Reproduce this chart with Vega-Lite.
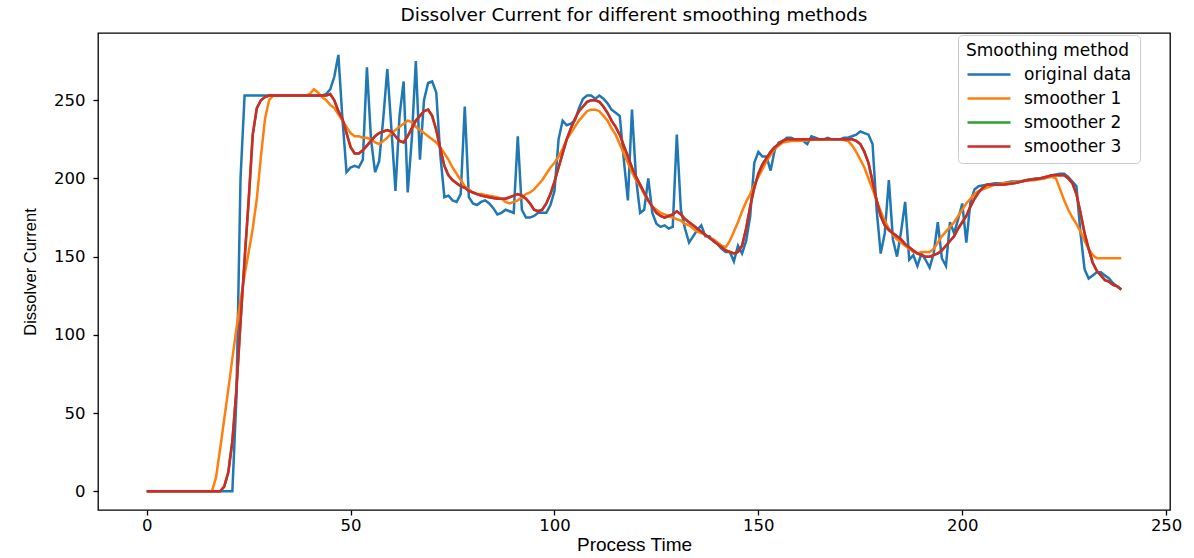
{
  "$schema": "https://vega.github.io/schema/vega-lite/v6.json",
  "autosize": {"type": "none"},
  "padding": {"left": 98, "top": 33, "right": 24, "bottom": 48},
  "width": 1072,
  "height": 477,
  "background": "white",
  "title": {
    "text": "Dissolver Current for different smoothing methods",
    "fontSize": 18.5,
    "font": "DejaVu Sans",
    "fontWeight": "normal",
    "color": "#000000",
    "offset": 9
  },
  "config": {
    "font": "DejaVu Sans",
    "view": {"stroke": "#000000", "strokeWidth": 1.3},
    "axis": {
      "domain": false,
      "grid": false,
      "tickColor": "#000000",
      "tickSize": 5,
      "tickWidth": 1.3,
      "labelColor": "#000000",
      "labelFontSize": 16.5,
      "labelFont": "DejaVu Sans",
      "titleColor": "#000000",
      "titleFontWeight": "normal",
      "titleFont": "Liberation Sans"
    }
  },
  "datasets": {
    "orig": [
      {"t":0,"v":0},{"t":21,"v":0},{"t":22,"v":60},{"t":23,"v":200},{"t":24,"v":253},{"t":43,"v":253},{"t":44,"v":254},{"t":45,"v":257},{"t":46,"v":265},{"t":47,"v":279},{"t":48,"v":238},{"t":49,"v":204},{"t":50,"v":207},{"t":51,"v":208},{"t":52,"v":207},{"t":53,"v":212},{"t":54,"v":271},{"t":55,"v":225},{"t":56,"v":204},{"t":57,"v":211},{"t":58,"v":238},{"t":59,"v":270},{"t":60,"v":232},{"t":61,"v":192},{"t":62,"v":240},{"t":63,"v":262},{"t":64,"v":191},{"t":65,"v":225},{"t":66,"v":275},{"t":67,"v":212},{"t":68,"v":250},{"t":69,"v":261},{"t":70,"v":262},{"t":71,"v":255},{"t":72,"v":215},{"t":73,"v":188},{"t":74,"v":189},{"t":75,"v":186},{"t":76,"v":185},{"t":77,"v":190},{"t":78,"v":246},{"t":79,"v":188},{"t":80,"v":184},{"t":81,"v":183},{"t":82,"v":185},{"t":83,"v":186},{"t":84,"v":184},{"t":85,"v":181},{"t":86,"v":177},{"t":87,"v":178},{"t":88,"v":180},{"t":89,"v":179},{"t":90,"v":178},{"t":91,"v":227},{"t":92,"v":180},{"t":93,"v":175},{"t":94,"v":175},{"t":95,"v":176},{"t":96,"v":178},{"t":97,"v":178},{"t":98,"v":178},{"t":99,"v":183},{"t":100,"v":192},{"t":101,"v":225},{"t":102,"v":237},{"t":103,"v":234},{"t":104,"v":235},{"t":105,"v":237},{"t":106,"v":245},{"t":107,"v":251},{"t":108,"v":253},{"t":109,"v":253},{"t":110,"v":251},{"t":111,"v":253},{"t":112,"v":251},{"t":113,"v":248},{"t":114,"v":244},{"t":115,"v":242},{"t":116,"v":240},{"t":117,"v":212},{"t":118,"v":186},{"t":119,"v":244},{"t":120,"v":200},{"t":121,"v":178},{"t":122,"v":180},{"t":123,"v":200},{"t":124,"v":178},{"t":125,"v":171},{"t":126,"v":169},{"t":127,"v":170},{"t":128,"v":168},{"t":129,"v":169},{"t":130,"v":228},{"t":131,"v":180},{"t":132,"v":168},{"t":133,"v":159},{"t":134,"v":163},{"t":135,"v":167},{"t":136,"v":170},{"t":137,"v":163},{"t":138,"v":163},{"t":139,"v":160},{"t":140,"v":158},{"t":141,"v":155},{"t":142,"v":153},{"t":143,"v":153},{"t":144,"v":147},{"t":145,"v":157},{"t":146,"v":152},{"t":147,"v":160},{"t":148,"v":176},{"t":149,"v":210},{"t":150,"v":217},{"t":151,"v":214},{"t":152,"v":214},{"t":153,"v":205},{"t":154,"v":218},{"t":155,"v":223},{"t":156,"v":224},{"t":157,"v":226},{"t":158,"v":226},{"t":159,"v":225},{"t":160,"v":225},{"t":161,"v":224},{"t":162,"v":222},{"t":163,"v":227},{"t":164,"v":226},{"t":165,"v":225},{"t":166,"v":225},{"t":167,"v":226},{"t":168,"v":225},{"t":169,"v":225},{"t":170,"v":225},{"t":171,"v":226},{"t":172,"v":226},{"t":173,"v":227},{"t":174,"v":228},{"t":175,"v":230},{"t":176,"v":229},{"t":177,"v":228},{"t":178,"v":222},{"t":179,"v":180},{"t":180,"v":152},{"t":181,"v":165},{"t":182,"v":199},{"t":183,"v":161},{"t":184,"v":150},{"t":185,"v":166},{"t":186,"v":185},{"t":187,"v":148},{"t":188,"v":151},{"t":189,"v":144},{"t":190,"v":152},{"t":191,"v":148},{"t":192,"v":143},{"t":193,"v":152},{"t":194,"v":172},{"t":195,"v":149},{"t":196,"v":144},{"t":197,"v":172},{"t":198,"v":165},{"t":199,"v":174},{"t":200,"v":184},{"t":201,"v":159},{"t":202,"v":185},{"t":203,"v":193},{"t":204,"v":195},{"t":206,"v":196},{"t":208,"v":197},{"t":210,"v":197},{"t":212,"v":198},{"t":214,"v":198},{"t":216,"v":199},{"t":218,"v":200},{"t":220,"v":200},{"t":222,"v":202},{"t":224,"v":203},{"t":225,"v":203},{"t":226,"v":201},{"t":227,"v":198},{"t":228,"v":195},{"t":229,"v":165},{"t":230,"v":142},{"t":231,"v":136},{"t":232,"v":138},{"t":233,"v":140},{"t":234,"v":140},{"t":235,"v":138},{"t":236,"v":136},{"t":237,"v":133},{"t":238,"v":131},{"t":239,"v":129}
    ],
    "s1": [
      {"t":0,"v":0},{"t":16,"v":0},{"t":17,"v":9},{"t":18,"v":27},{"t":19,"v":46},{"t":20,"v":65},{"t":21,"v":85},{"t":22,"v":104},{"t":23,"v":122},{"t":24,"v":138},{"t":25,"v":153},{"t":26,"v":168},{"t":27,"v":187},{"t":28,"v":214},{"t":29,"v":238},{"t":30,"v":250},{"t":31,"v":253},{"t":39,"v":253},{"t":40,"v":254},{"t":41,"v":257},{"t":42,"v":255},{"t":43,"v":252},{"t":44,"v":250},{"t":45,"v":247},{"t":46,"v":245},{"t":47,"v":241},{"t":48,"v":237},{"t":49,"v":233},{"t":50,"v":229},{"t":51,"v":227},{"t":52,"v":227},{"t":53,"v":226},{"t":54,"v":226},{"t":55,"v":225},{"t":56,"v":223},{"t":57,"v":222},{"t":58,"v":224},{"t":59,"v":226},{"t":60,"v":229},{"t":61,"v":231},{"t":62,"v":233},{"t":63,"v":235},{"t":64,"v":237},{"t":65,"v":236},{"t":66,"v":233},{"t":67,"v":231},{"t":68,"v":229},{"t":69,"v":227},{"t":70,"v":225},{"t":71,"v":223},{"t":72,"v":220},{"t":73,"v":216},{"t":74,"v":212},{"t":75,"v":207},{"t":76,"v":203},{"t":77,"v":199},{"t":78,"v":195},{"t":79,"v":193},{"t":80,"v":191},{"t":81,"v":190},{"t":82,"v":190},{"t":84,"v":189},{"t":86,"v":188},{"t":87,"v":187},{"t":88,"v":185},{"t":89,"v":184},{"t":90,"v":185},{"t":91,"v":186},{"t":92,"v":188},{"t":93,"v":190},{"t":94,"v":191},{"t":95,"v":193},{"t":96,"v":196},{"t":97,"v":199},{"t":98,"v":203},{"t":99,"v":207},{"t":100,"v":210},{"t":101,"v":214},{"t":102,"v":219},{"t":103,"v":225},{"t":104,"v":229},{"t":105,"v":233},{"t":106,"v":237},{"t":107,"v":240},{"t":108,"v":243},{"t":109,"v":244},{"t":110,"v":244},{"t":111,"v":243},{"t":112,"v":240},{"t":113,"v":237},{"t":114,"v":232},{"t":115,"v":228},{"t":116,"v":222},{"t":117,"v":216},{"t":118,"v":210},{"t":119,"v":204},{"t":120,"v":199},{"t":121,"v":195},{"t":122,"v":190},{"t":123,"v":186},{"t":124,"v":182},{"t":125,"v":180},{"t":126,"v":178},{"t":127,"v":177},{"t":128,"v":176},{"t":129,"v":175},{"t":130,"v":174},{"t":131,"v":173},{"t":132,"v":171},{"t":133,"v":170},{"t":134,"v":168},{"t":135,"v":166},{"t":136,"v":165},{"t":137,"v":164},{"t":138,"v":162},{"t":139,"v":161},{"t":140,"v":159},{"t":141,"v":157},{"t":142,"v":156},{"t":143,"v":160},{"t":144,"v":166},{"t":145,"v":172},{"t":146,"v":179},{"t":147,"v":185},{"t":148,"v":190},{"t":149,"v":196},{"t":150,"v":201},{"t":151,"v":206},{"t":152,"v":211},{"t":153,"v":215},{"t":154,"v":219},{"t":155,"v":221},{"t":156,"v":223},{"t":158,"v":224},{"t":160,"v":224},{"t":165,"v":225},{"t":170,"v":225},{"t":172,"v":224},{"t":173,"v":221},{"t":174,"v":217},{"t":175,"v":212},{"t":176,"v":207},{"t":177,"v":200},{"t":178,"v":193},{"t":179,"v":186},{"t":180,"v":179},{"t":181,"v":173},{"t":182,"v":168},{"t":183,"v":164},{"t":184,"v":161},{"t":185,"v":159},{"t":186,"v":157},{"t":187,"v":155},{"t":188,"v":153},{"t":189,"v":152},{"t":190,"v":153},{"t":192,"v":153},{"t":193,"v":155},{"t":194,"v":159},{"t":195,"v":163},{"t":196,"v":166},{"t":197,"v":169},{"t":198,"v":172},{"t":199,"v":176},{"t":200,"v":180},{"t":201,"v":184},{"t":202,"v":187},{"t":203,"v":190},{"t":204,"v":192},{"t":205,"v":193},{"t":206,"v":194},{"t":208,"v":196},{"t":210,"v":197},{"t":214,"v":198},{"t":218,"v":199},{"t":220,"v":200},{"t":222,"v":201},{"t":223,"v":200},{"t":224,"v":193},{"t":225,"v":186},{"t":226,"v":180},{"t":227,"v":175},{"t":228,"v":171},{"t":229,"v":166},{"t":230,"v":160},{"t":231,"v":155},{"t":232,"v":151},{"t":233,"v":149},{"t":239,"v":149}
    ],
    "s3": [
      {"t":0,"v":0},{"t":18,"v":0},{"t":19,"v":3},{"t":20,"v":12},{"t":21,"v":32},{"t":22,"v":65},{"t":23,"v":108},{"t":24,"v":148},{"t":25,"v":186},{"t":26,"v":228},{"t":27,"v":245},{"t":28,"v":250},{"t":29,"v":252},{"t":30,"v":253},{"t":44,"v":253},{"t":45,"v":254},{"t":46,"v":250},{"t":47,"v":243},{"t":48,"v":238},{"t":49,"v":229},{"t":50,"v":220},{"t":51,"v":216},{"t":52,"v":216},{"t":53,"v":218},{"t":54,"v":221},{"t":55,"v":224},{"t":56,"v":227},{"t":57,"v":229},{"t":58,"v":230},{"t":59,"v":231},{"t":60,"v":230},{"t":61,"v":227},{"t":62,"v":224},{"t":63,"v":223},{"t":64,"v":227},{"t":65,"v":232},{"t":66,"v":237},{"t":67,"v":240},{"t":68,"v":243},{"t":69,"v":244},{"t":70,"v":240},{"t":71,"v":231},{"t":72,"v":219},{"t":73,"v":208},{"t":74,"v":202},{"t":75,"v":199},{"t":76,"v":197},{"t":77,"v":195},{"t":78,"v":194},{"t":79,"v":192},{"t":80,"v":191},{"t":81,"v":190},{"t":82,"v":189},{"t":84,"v":188},{"t":86,"v":187},{"t":88,"v":187},{"t":90,"v":189},{"t":91,"v":190},{"t":92,"v":189},{"t":93,"v":187},{"t":94,"v":184},{"t":95,"v":180},{"t":96,"v":179},{"t":97,"v":180},{"t":98,"v":184},{"t":99,"v":190},{"t":100,"v":198},{"t":101,"v":207},{"t":102,"v":216},{"t":103,"v":225},{"t":104,"v":232},{"t":105,"v":238},{"t":106,"v":243},{"t":107,"v":246},{"t":108,"v":249},{"t":109,"v":250},{"t":110,"v":250},{"t":111,"v":249},{"t":112,"v":246},{"t":113,"v":242},{"t":114,"v":237},{"t":115,"v":233},{"t":116,"v":228},{"t":117,"v":221},{"t":118,"v":214},{"t":119,"v":207},{"t":120,"v":201},{"t":121,"v":196},{"t":122,"v":191},{"t":123,"v":186},{"t":124,"v":182},{"t":125,"v":178},{"t":126,"v":176},{"t":127,"v":175},{"t":128,"v":176},{"t":129,"v":177},{"t":130,"v":179},{"t":131,"v":177},{"t":132,"v":174},{"t":133,"v":172},{"t":134,"v":170},{"t":135,"v":168},{"t":136,"v":166},{"t":137,"v":164},{"t":138,"v":162},{"t":139,"v":160},{"t":140,"v":158},{"t":141,"v":156},{"t":142,"v":154},{"t":143,"v":153},{"t":144,"v":152},{"t":145,"v":153},{"t":146,"v":157},{"t":147,"v":168},{"t":148,"v":182},{"t":149,"v":194},{"t":150,"v":203},{"t":151,"v":209},{"t":152,"v":213},{"t":153,"v":217},{"t":154,"v":220},{"t":155,"v":222},{"t":156,"v":224},{"t":157,"v":225},{"t":173,"v":225},{"t":174,"v":224},{"t":175,"v":222},{"t":176,"v":217},{"t":177,"v":210},{"t":178,"v":198},{"t":179,"v":186},{"t":180,"v":176},{"t":181,"v":170},{"t":182,"v":167},{"t":183,"v":165},{"t":184,"v":163},{"t":185,"v":161},{"t":186,"v":158},{"t":187,"v":156},{"t":188,"v":154},{"t":189,"v":152},{"t":190,"v":151},{"t":191,"v":150},{"t":192,"v":150},{"t":193,"v":151},{"t":194,"v":152},{"t":195,"v":154},{"t":196,"v":157},{"t":197,"v":160},{"t":198,"v":163},{"t":199,"v":168},{"t":200,"v":172},{"t":201,"v":176},{"t":202,"v":182},{"t":203,"v":187},{"t":204,"v":191},{"t":205,"v":194},{"t":206,"v":196},{"t":210,"v":196},{"t":213,"v":197},{"t":216,"v":199},{"t":219,"v":200},{"t":222,"v":202},{"t":225,"v":202},{"t":226,"v":200},{"t":227,"v":197},{"t":228,"v":190},{"t":229,"v":178},{"t":230,"v":165},{"t":231,"v":155},{"t":232,"v":146},{"t":233,"v":141},{"t":234,"v":138},{"t":235,"v":135},{"t":236,"v":134},{"t":237,"v":132},{"t":238,"v":131},{"t":239,"v":129}
    ]
  },
  "encoding": {
    "x": {
      "field": "t", "type": "quantitative",
      "scale": {"domain": [-11.95, 250.95], "nice": false, "zero": false},
      "axis": {"title": "Process Time", "values": [0, 50, 100, 150, 200, 250], "labelPadding": 2, "titlePadding": 2, "titleFontSize": 19}
    },
    "y": {
      "field": "v", "type": "quantitative",
      "scale": {"domain": [-12, 293], "nice": false, "zero": false},
      "axis": {"title": "Dissolver Current", "values": [0, 50, 100, 150, 200, 250], "labelPadding": 8, "titlePadding": 15, "titleFontSize": 16.5}
    }
  },
  "layer": [
    {
      "data": {"name": "orig"},
      "mark": {"type": "line", "strokeWidth": 2.5, "interpolate": "linear"},
      "encoding": {"color": {"datum": "original data"}}
    },
    {
      "data": {"name": "s1"},
      "mark": {"type": "line", "strokeWidth": 2.5, "interpolate": "linear"},
      "encoding": {"color": {"datum": "smoother 1"}}
    },
    {
      "data": {"name": "s3"},
      "mark": {"type": "line", "strokeWidth": 2.5, "interpolate": "linear"},
      "encoding": {"color": {"datum": "smoother 2"}}
    },
    {
      "data": {"name": "s3"},
      "mark": {"type": "line", "strokeWidth": 2.5, "interpolate": "linear"},
      "encoding": {
        "color": {
          "datum": "smoother 3",
          "scale": {
            "domain": ["original data", "smoother 1", "smoother 2", "smoother 3"],
            "range": ["#1f77b4", "#ff7f0e", "#2ca02c", "#d62728"]
          },
          "legend": {
            "title": "Smoothing method",
            "orient": "none",
            "legendX": 860,
            "legendY": 2,
            "padding": 8,
            "strokeColor": "#cccccc",
            "fillColor": "#ffffff",
            "cornerRadius": 4,
            "titleFontSize": 17,
            "titleFont": "DejaVu Sans",
            "titleFontWeight": "normal",
            "titleColor": "#000000",
            "titlePadding": 6,
            "labelFontSize": 17,
            "labelFont": "DejaVu Sans",
            "labelColor": "#000000",
            "labelOffset": 12,
            "symbolType": "stroke",
            "symbolSize": 1849,
            "symbolStrokeWidth": 2.5,
            "clipHeight": 17,
            "rowPadding": 6
          }
        }
      }
    }
  ]
}
